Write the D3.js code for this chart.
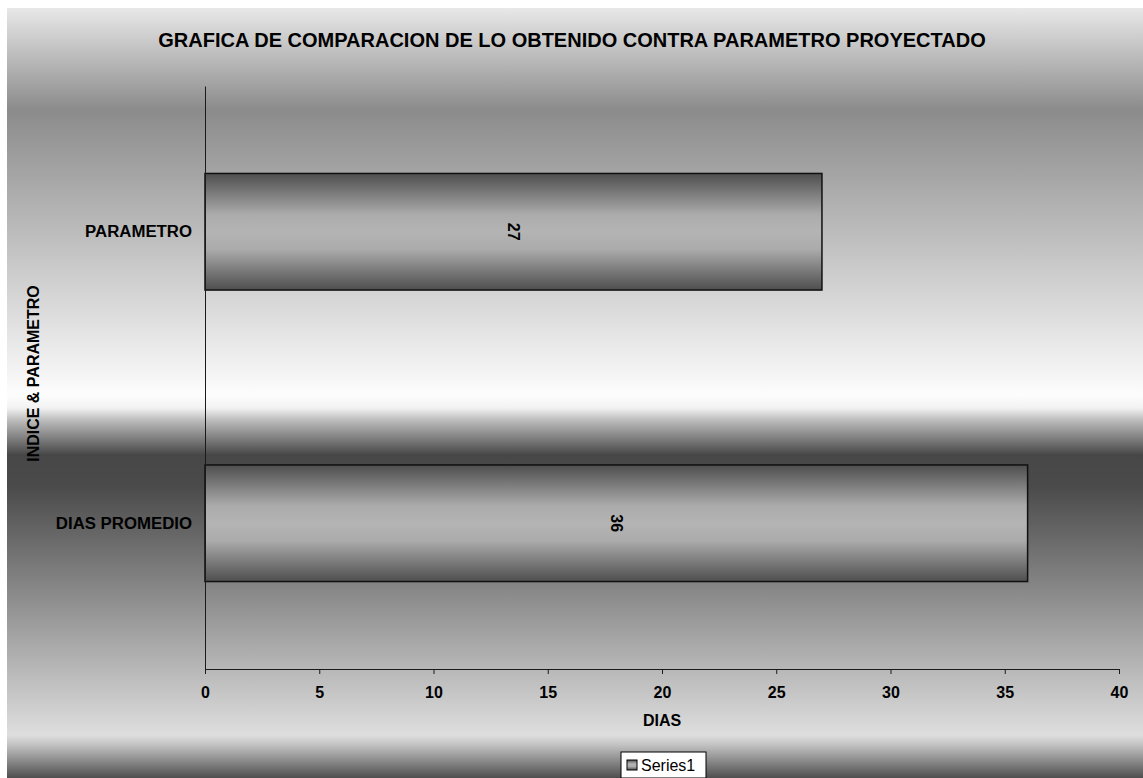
<!DOCTYPE html>
<html>
<head>
<meta charset="utf-8">
<script src="https://cdn.jsdelivr.net/npm/d3@7"></script>
<style>
  body { margin: 0; background: #fff; }
  svg { display: block; }
  text { font-family: Arial, "Liberation Sans", sans-serif; }
</style>
</head>
<body>
<div id="chart"></div>
<script>
// chart data
const categories = ["PARAMETRO", "DIAS PROMEDIO"];
const values = [27, 36];
const xTicks = [0, 5, 10, 15, 20, 25, 30, 35, 40];
const seriesName = "Series1";

const svgWidth = 1143, svgHeight = 778;
const margin = { top: 86, right: 24, bottom: 109, left: 205 };
const width = 1119 - margin.left;
const height = 669 - margin.top;

const svg = d3.select("#chart")
    .append("svg")
    .attr("width", svgWidth)
    .attr("height", svgHeight);

const defs = svg.append("defs");

// background gradient, stops given as absolute y positions
const bgStops = [
    [8, "#e8e8e8"], [110, "#8b8b8b"], [250, "#c3c3c3"], [395, "#fdfdfd"],
    [408, "#f2f2f2"], [420, "#bdbdbd"], [455, "#474747"], [485, "#4a4a4a"],
    [540, "#6a6a6a"], [660, "#b2b2b2"], [735, "#dedede"], [745, "#c2c2c2"],
    [778, "#4e4e4e"]
];
const bg = defs.append("linearGradient")
    .attr("id", "bgGrad")
    .attr("gradientUnits", "userSpaceOnUse")
    .attr("x1", 0).attr("x2", 0).attr("y1", 8).attr("y2", 778);
bg.selectAll("stop").data(bgStops).enter().append("stop")
    .attr("offset", d => (d[0] - 8) / 770)
    .attr("stop-color", d => d[1]);

const barGrad = defs.append("linearGradient")
    .attr("id", "barGrad")
    .attr("x1", 0).attr("x2", 0).attr("y1", 0).attr("y2", 1);
[[0, "#4e4e4e"], [0.35, "#ababab"], [0.5, "#b4b4b4"], [0.65, "#ababab"], [1, "#4e4e4e"]]
    .forEach(s => barGrad.append("stop").attr("offset", s[0]).attr("stop-color", s[1]));

svg.append("rect")
    .attr("x", 7).attr("y", 8)
    .attr("width", svgWidth - 7).attr("height", svgHeight - 8)
    .attr("fill", "url(#bgGrad)");

// title
svg.append("text")
    .attr("x", 572)
    .attr("y", 47)
    .attr("text-anchor", "middle")
    .style("font-size", "20px")
    .style("font-weight", "bold")
    .text("GRAFICA DE COMPARACION DE LO OBTENIDO CONTRA PARAMETRO PROYECTADO");

const g = svg.append("g")
    .attr("transform", `translate(${margin.left}, ${margin.top})`);

const x = d3.scaleLinear()
    .domain([0, 40])
    .range([0, width]);

const y = d3.scaleBand()
    .domain(categories)
    .range([0, height])
    .paddingInner(0.6)
    .paddingOuter(0.3);

// bars
g.selectAll(".bar")
    .data(categories)
    .enter()
    .append("rect")
    .attr("class", "bar")
    .attr("x", x(0))
    .attr("y", d => y(d))
    .attr("width", (d, i) => x(values[i]) - x(0))
    .attr("height", y.bandwidth())
    .attr("fill", "url(#barGrad)")
    .attr("stroke", "#111")
    .attr("stroke-width", 1.5);

// data labels, rotated
g.selectAll(".bar-label")
    .data(categories)
    .enter()
    .append("text")
    .attr("class", "bar-label")
    .attr("transform", (d, i) => `translate(${(x(0) + x(values[i])) / 2}, ${y(d) + y.bandwidth() / 2}) rotate(90)`)
    .attr("text-anchor", "middle")
    .attr("dy", "0.35em")
    .style("font-size", "16px")
    .style("font-weight", "bold")
    .text((d, i) => values[i]);

// axes
g.append("g")
    .attr("class", "x-axis")
    .attr("transform", `translate(0, ${height})`)
    .call(d3.axisBottom(x).tickValues(xTicks).tickSize(5).tickSizeOuter(5).tickPadding(13));

g.append("g")
    .attr("class", "y-axis")
    .call(d3.axisLeft(y).tickSize(0).tickPadding(13));

svg.selectAll(".x-axis path, .y-axis path, .x-axis line")
    .attr("stroke", "#1a1a1a");
svg.selectAll(".x-axis text, .y-axis text")
    .attr("fill", "#000")
    .style("font-family", "Arial, 'Liberation Sans', sans-serif")
    .style("font-size", "16px")
    .style("font-weight", "bold");
svg.selectAll(".y-axis text").style("font-size", "16.8px");

// axis titles
svg.append("text")
    .attr("x", margin.left + width / 2)
    .attr("y", 726)
    .attr("text-anchor", "middle")
    .style("font-size", "16px")
    .style("font-weight", "bold")
    .text("DIAS");

svg.append("text")
    .attr("transform", `translate(39, ${margin.top + height / 2 - 4}) rotate(-90)`)
    .attr("text-anchor", "middle")
    .style("font-size", "16px")
    .style("font-weight", "bold")
    .text("INDICE & PARAMETRO");

// legend
const legend = svg.append("g").attr("transform", "translate(621, 752)");
legend.append("rect")
    .attr("width", 85).attr("height", 26)
    .attr("fill", "#fff")
    .attr("stroke", "#000");
legend.append("rect")
    .attr("x", 6).attr("y", 8)
    .attr("width", 10).attr("height", 10)
    .attr("fill", "url(#barGrad)")
    .attr("stroke", "#000");
legend.append("text")
    .attr("x", 20).attr("y", 19)
    .style("font-size", "16px")
    .text(seriesName);
</script>
</body>
</html>
